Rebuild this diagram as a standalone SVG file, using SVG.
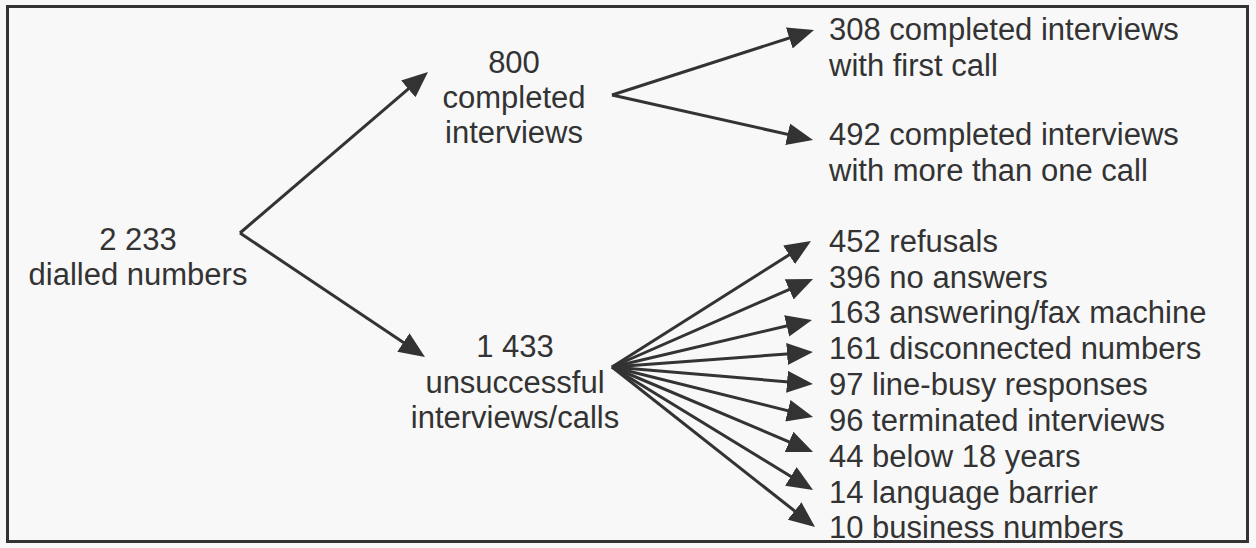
<svg xmlns="http://www.w3.org/2000/svg" width="1256" height="548" viewBox="0 0 1256 548">
<style>
text{font-family:"Liberation Sans",Arial,sans-serif;font-size:31px;fill:#333}
.c{text-anchor:middle}
.e{fill:none;stroke:#333;stroke-width:3}
</style>
<defs>
<marker id="ah" markerUnits="userSpaceOnUse" viewBox="0 0 26 22" refX="14" refY="11" markerWidth="26" markerHeight="22" orient="auto">
<path d="M0,0 L26,11 L0,22 Z" fill="#333"/>
</marker>
</defs>
<rect width="1256" height="548" fill="#f8f8f8"/>
<rect x="7.5" y="6.5" width="1240" height="535" fill="none" stroke="#333" stroke-width="3"/>
<g id="connectors">
<path class="e" marker-end="url(#ah)" d="M240,233 L418.9,79.8"/>
<path class="e" marker-end="url(#ah)" d="M240,233 L415,350.3"/>
<path class="e" marker-end="url(#ah)" d="M612,95 L802.6,33.7"/>
<path class="e" marker-end="url(#ah)" d="M612,95 L801.3,137.4"/>
<path class="e" marker-end="url(#ah)" d="M612,367 L800.9,247.4"/>
<path class="e" marker-end="url(#ah)" d="M612,367 L802,283.8"/>
<path class="e" marker-end="url(#ah)" d="M612,367 L800.3,322.7"/>
<path class="e" marker-end="url(#ah)" d="M612,367 L801,352.9"/>
<path class="e" marker-end="url(#ah)" d="M612,367 L801,383"/>
<path class="e" marker-end="url(#ah)" d="M612,367 L801.4,414.1"/>
<path class="e" marker-end="url(#ah)" d="M612,367 L802,447.3"/>
<path class="e" marker-end="url(#ah)" d="M612,367 L802.8,483.7"/>
<path class="e" marker-end="url(#ah)" d="M612,367 L805.6,519.6"/>
</g>
<g id="dialled"><text class="c" x="138" y="250">2 233</text><text class="c" x="138" y="285">dialled numbers</text></g>
<g id="completed"><text class="c" x="514" y="73">800</text><text class="c" x="514" y="108">completed</text><text class="c" x="514" y="143">interviews</text></g>
<g id="unsuccessful"><text class="c" x="515" y="357">1 433</text><text class="c" x="515" y="393">unsuccessful</text><text class="c" x="515" y="428">interviews/calls</text></g>
<g id="first"><text x="829" y="40">308 completed interviews</text><text x="829" y="76">with first call</text></g>
<g id="more"><text x="829" y="145">492 completed interviews</text><text x="829" y="181">with more than one call</text></g>
<g id="refusals"><text x="829" y="252">452 refusals</text></g>
<g id="noanswers"><text x="829" y="288">396 no answers</text></g>
<g id="machine"><text x="829" y="323">163 answering/fax machine</text></g>
<g id="disconnected"><text x="829" y="359">161 disconnected numbers</text></g>
<g id="busy"><text x="829" y="395">97 line-busy responses</text></g>
<g id="terminated"><text x="829" y="431">96 terminated interviews</text></g>
<g id="below18"><text x="829" y="467">44 below 18 years</text></g>
<g id="language"><text x="829" y="503">14 language barrier</text></g>
<g id="business"><text x="829" y="538">10 business numbers</text></g>
</svg>
